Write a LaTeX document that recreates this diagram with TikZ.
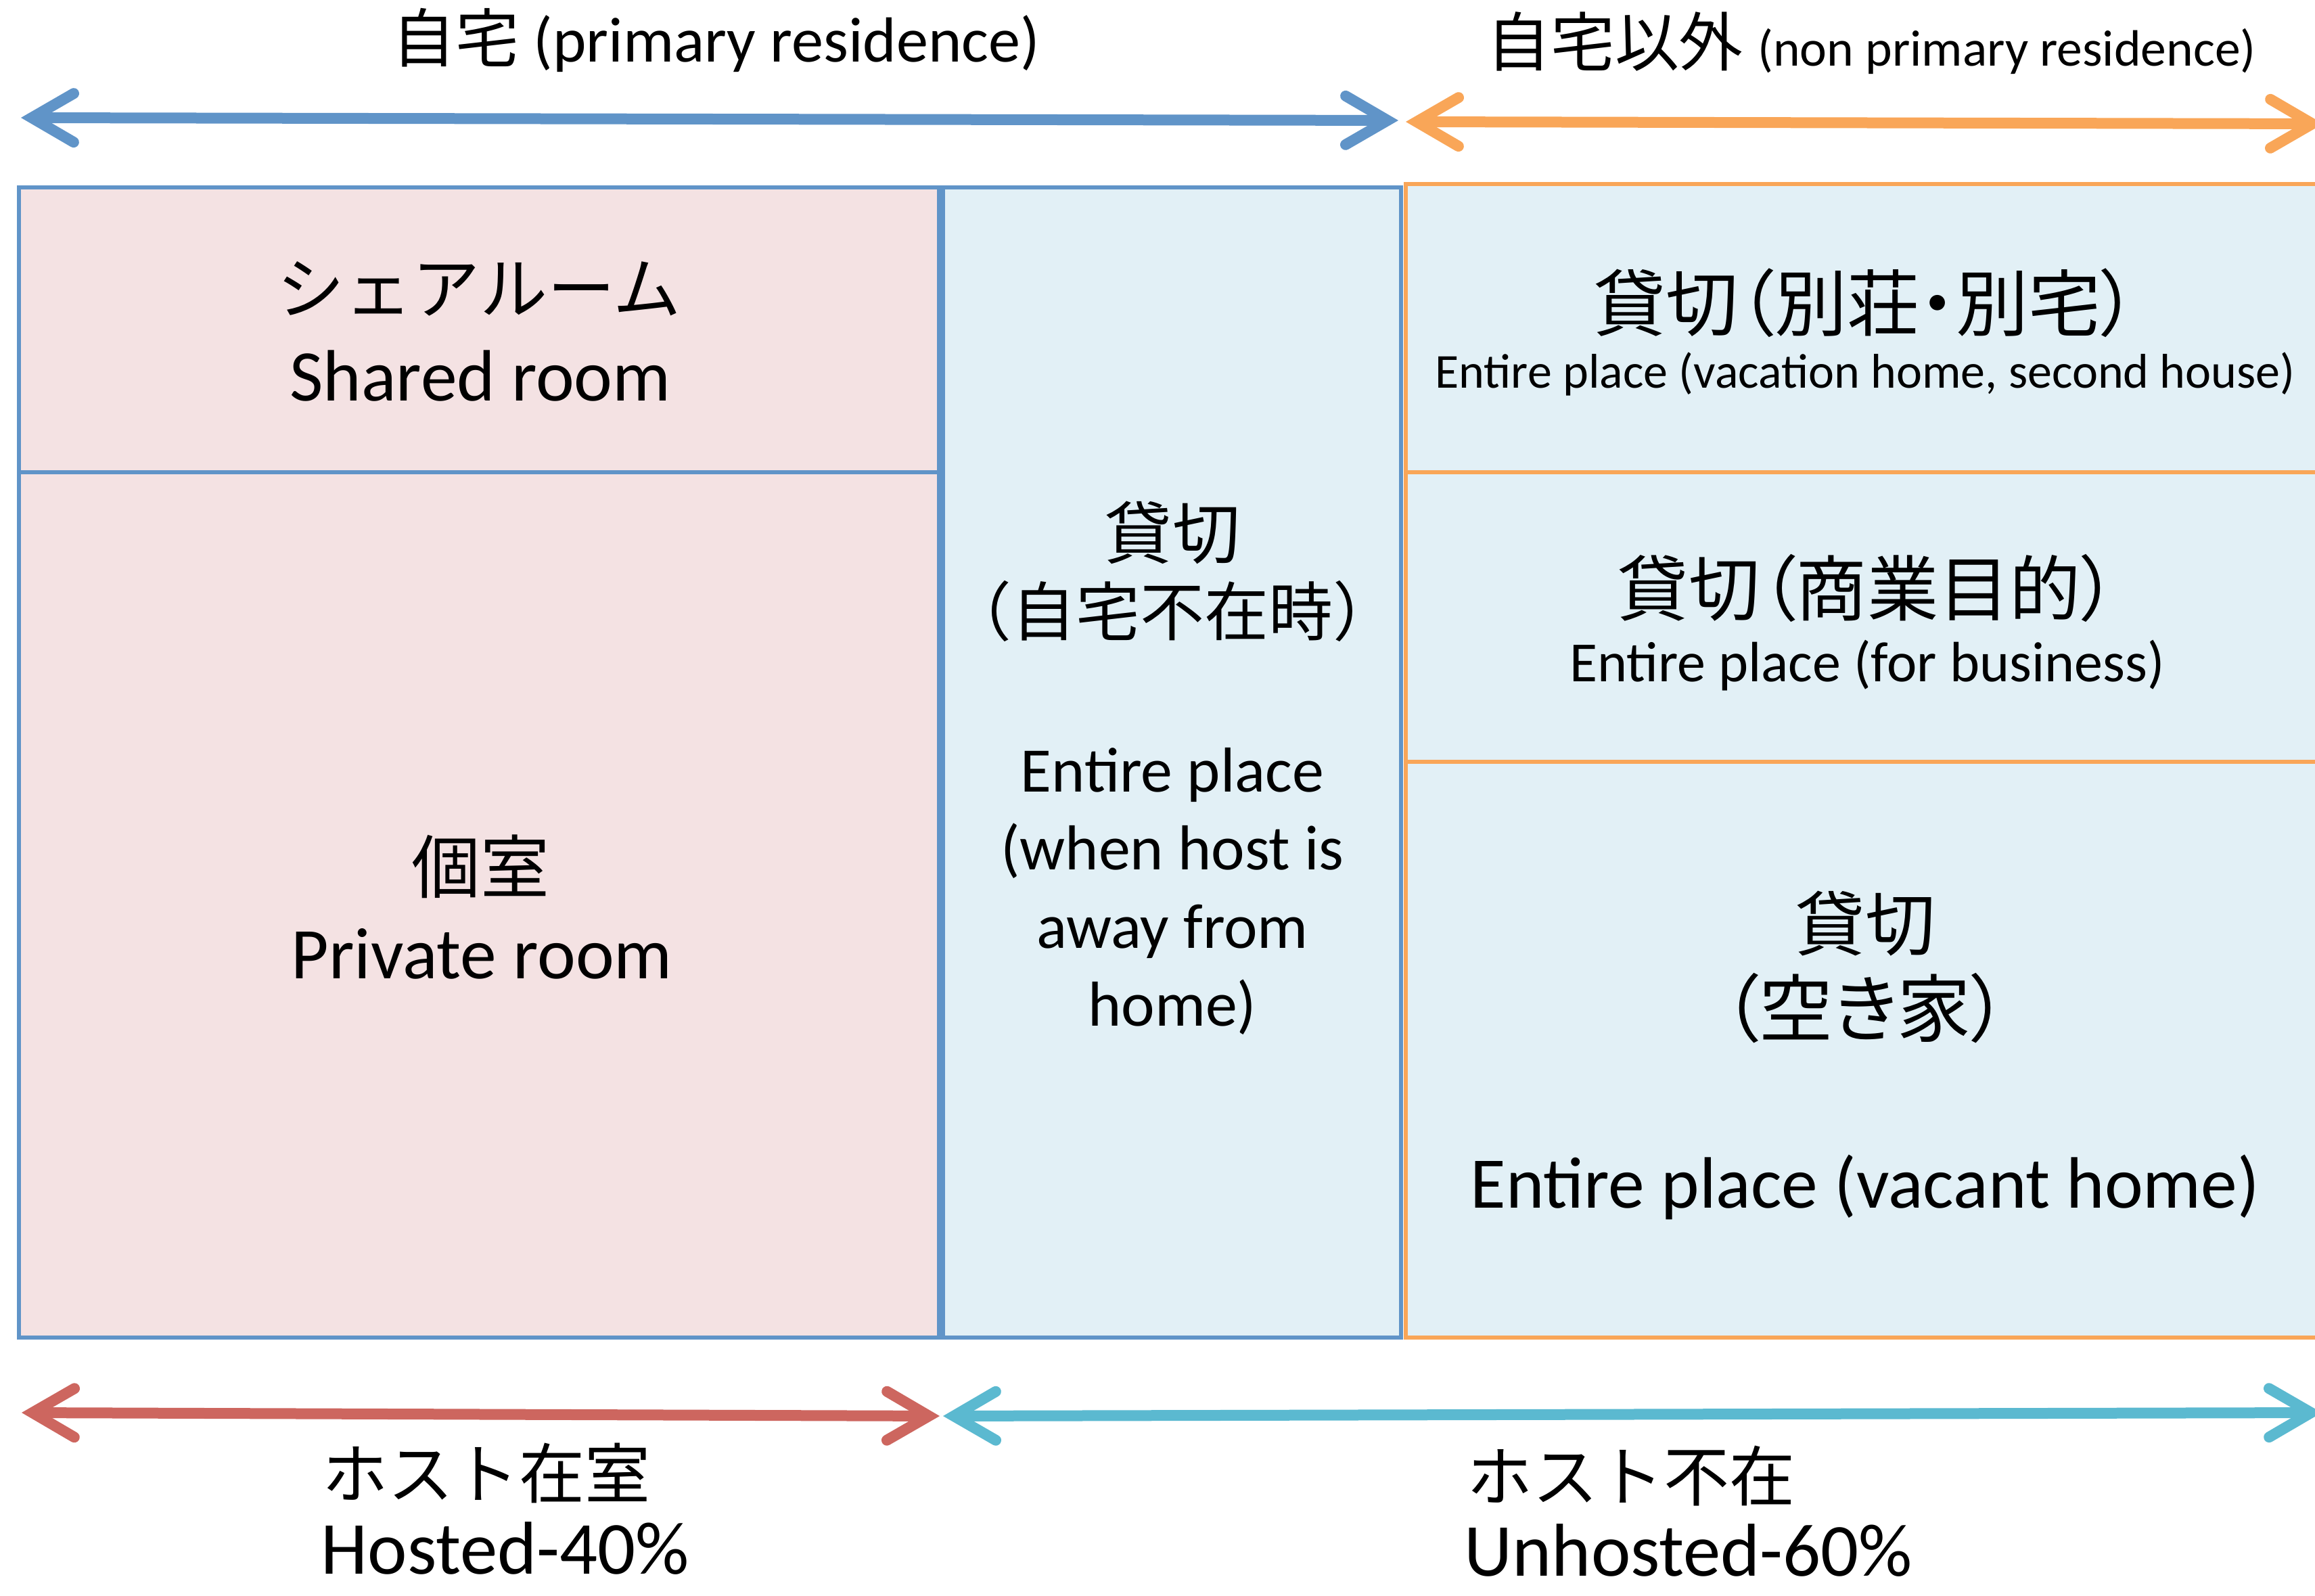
\documentclass[tikz,border=0pt]{standalone}
\usepackage{fontspec}
\setmainfont{Carlito}
\newfontfamily\jp{Noto Sans CJK JP}
\newfontfamily\jpp{Noto Sans CJK JP}[RawFeature=+palt]
\usepackage{tikz}
\usetikzlibrary{arrows.meta}

\definecolor{lineblue}{RGB}{96,148,200}
\definecolor{lineorange}{RGB}{249,166,88}
\definecolor{linered}{RGB}{205,102,95}
\definecolor{linecyan}{RGB}{91,185,208}
\definecolor{fillpink}{RGB}{244,226,227}
\definecolor{fillblue}{RGB}{226,240,246}

\newcommand{\fsz}[1]{\fontsize{#1}{#1}\selectfont}

\tikzset{
    room/.style={line width=0.06cm},
    barb/.tip={Straight Barb[length=0.62cm, width=0.72cm, line cap=round]},
    spanarrow/.style={line width=0.16cm, barb-barb},
    txt/.style={inner sep=0pt},
    btxt/.style={inner sep=0pt, anchor=base},
}

\begin{document}
\begin{tikzpicture}[]
        \useasboundingbox (0,0) rectangle (34.22,-23.59);
        \clip (0,0) rectangle (34.22,-23.59);

        % primary / non primary residence
        \coordinate (homeL) at (0.31,-1.74);
        \coordinate (homeR) at (20.67,-1.78);
        \coordinate (awayL) at (20.78,-1.80);
        \coordinate (awayR) at (34.34,-1.83);
        \draw[spanarrow, lineblue] (homeL) -- (homeR);
        \draw[spanarrow, lineorange] (awayL) -- (awayR);

        \node[btxt] (home) at (10.58,-0.92)
            {\fsz{26.8pt}{\jp 自宅} (primary residence)};
        \node[btxt] (nothome) at (27.66,-0.98)
            {\fsz{27pt}{\jp 自宅以外} \fsz{21.5pt}(non primary residence)};

        % shared room
        \draw[room, draw=lineblue, fill=fillpink] (0.28,-2.77) rectangle (13.88,-6.98);
        \node[txt] (sharedjp) at (7.08,-4.27) {\fsz{28.5pt}\jp シェアルーム};
        \node[btxt] (shared) at (7.10,-5.93) {\fsz{30.6pt}Shared room};

        % private room
        \draw[room, draw=lineblue, fill=fillpink] (0.28,-6.98) rectangle (13.88,-19.77);
        \node[txt] (privatejp) at (7.10,-12.81) {\fsz{29pt}\jp 個室};
        \node[btxt] (private) at (7.12,-14.47) {\fsz{30.6pt}Private room};

        % entire place, host away
        \draw[room, draw=lineblue, fill=fillblue] (13.94,-2.77) rectangle (20.71,-19.77);
        \node[txt] (awayjp) at (17.33,-7.87) {\fsz{28.5pt}\jp 貸切};
        \node[txt] (awayjpb) at (17.33,-9.03) {\fsz{27pt}\jp （自宅不在時）};
        \node[btxt] (away1) at (17.33,-11.71) {\fsz{26.7pt}Entire place};
        \node[btxt] (away2) at (17.33,-12.86) {\fsz{26.7pt}(when host is};
        \node[btxt] (away3) at (17.33,-14.01) {\fsz{26.7pt}away from};
        \node[btxt] (away4) at (17.33,-15.16) {\fsz{26.7pt}home)};

        % vacation home
        \draw[room, draw=lineorange, fill=fillblue] (20.78,-2.72) rectangle (34.60,-6.98);
        \node[txt] (vacjp) at (27.57,-4.48) {\fsz{30.5pt}\jpp 貸切（別荘・別宅）};
        \node[btxt] (vac) at (27.57,-5.74) {\fsz{20.5pt}Entire place (vacation home, second house)};

        % business
        \draw[room, draw=lineorange, fill=fillblue] (20.78,-6.98) rectangle (34.60,-11.26);
        \node[txt] (bizjp) at (27.60,-8.69) {\fsz{30pt}\jpp 貸切（商業目的）};
        \node[btxt] (biz) at (27.60,-10.08) {\fsz{23.9pt}Entire place (for business)};

        % vacant home
        \draw[room, draw=lineorange, fill=fillblue] (20.78,-11.26) rectangle (34.60,-19.77);
        \node[txt] (vacantjp) at (27.57,-13.65) {\fsz{29.5pt}\jp 貸切};
        \node[txt] (vacantjpb) at (27.57,-14.90) {\fsz{31pt}\jpp （空き家）};
        \node[btxt] (vacant) at (27.57,-17.85) {\fsz{30.6pt}Entire place (vacant home)};

        % hosted / unhosted
        \coordinate (hostL) at (0.32,-20.88);
        \coordinate (hostR) at (13.89,-20.93);
        \coordinate (unhostL) at (13.94,-20.93);
        \coordinate (unhostR) at (34.32,-20.88);
        \draw[spanarrow, linered] (hostL) -- (hostR);
        \draw[spanarrow, linecyan] (unhostL) -- (unhostR);

        \node[btxt, anchor=base west] (hostedjp) at (4.76,-22.14) {\fsz{27.6pt}\jp ホスト在室};
        \node[btxt, anchor=base west] (hosted) at (4.74,-23.26) {\fsz{31.5pt}Hosted-40\%};
        \node[btxt, anchor=base west] (unhostedjp) at (21.68,-22.18) {\fsz{27.6pt}\jp ホスト不在};
        \node[btxt, anchor=base west] (unhosted) at (21.64,-23.29) {\fsz{31.5pt}Unhosted-60\%};
    \end{tikzpicture}
\end{document}
